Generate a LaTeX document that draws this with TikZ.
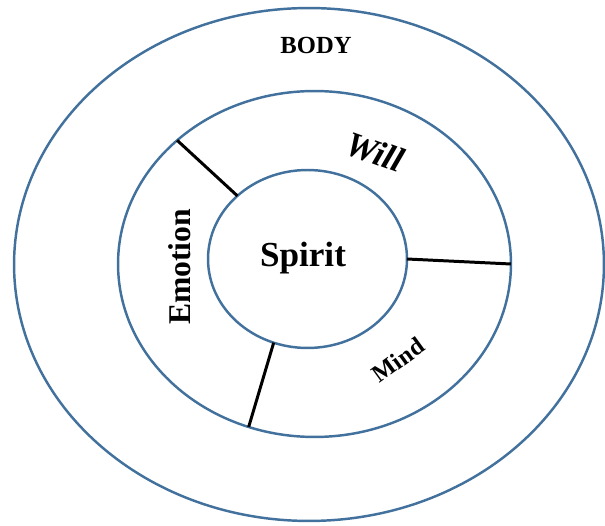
\documentclass[tikz,border=0pt]{standalone}
\usepackage{fontspec}
\setmainfont{Liberation Serif}
\usepackage{tikz}
\usetikzlibrary{shapes,positioning,calc}

\definecolor{ringblue}{HTML}{41719C}

\begin{document}
\begin{tikzpicture}[x=0.02cm, y=-0.02cm,
        ring/.style={draw=ringblue, ellipse, line width=1.4pt, inner sep=0pt, outer sep=0pt},
        spoke/.style={draw=black, line width=1.7pt},
        lbl/.style={font=\bfseries, inner sep=0pt}
    ]
        \useasboundingbox (0,0) rectangle (605,526);

        \node [ring, minimum width=11.8cm, minimum height=10.26cm] (body) at (309,264.5) {};
        \node [ring, minimum width=7.86cm, minimum height=6.92cm] (soul) at (314.5,264) {};
        \node [ring, minimum width=3.98cm, minimum height=3.56cm] (spirit) at (307.5,259) {};

        % labels of the rings
        \node [lbl, font=\bfseries\fontsize{20}{23}\selectfont] (spiritlbl) at (303,258) {Spirit};
        \node [lbl, font=\bfseries\fontsize{14}{16}\selectfont] (bodylbl) at (316,45) {BODY};
        \node [lbl, font=\bfseries\itshape\fontsize{20}{23}\selectfont, rotate=-20] (will) at (375,152) {Will};
        \node [lbl, font=\bfseries\fontsize{18}{21}\selectfont, rotate=90] (emotion) at (180,267) {Emotion};
        \node [lbl, font=\bfseries\fontsize{14}{17}\selectfont, rotate=36] (mind) at (398,360) {Mind};

        % dividers between the parts of the soul
        \draw [spoke] (spirit.138) -- (soul.138.5);
        \draw [spoke] (spirit.-0.5) -- (soul.0);
        \draw [spoke] (spirit.248.3) -- (soul.248.6);

    \end{tikzpicture}
\end{document}
